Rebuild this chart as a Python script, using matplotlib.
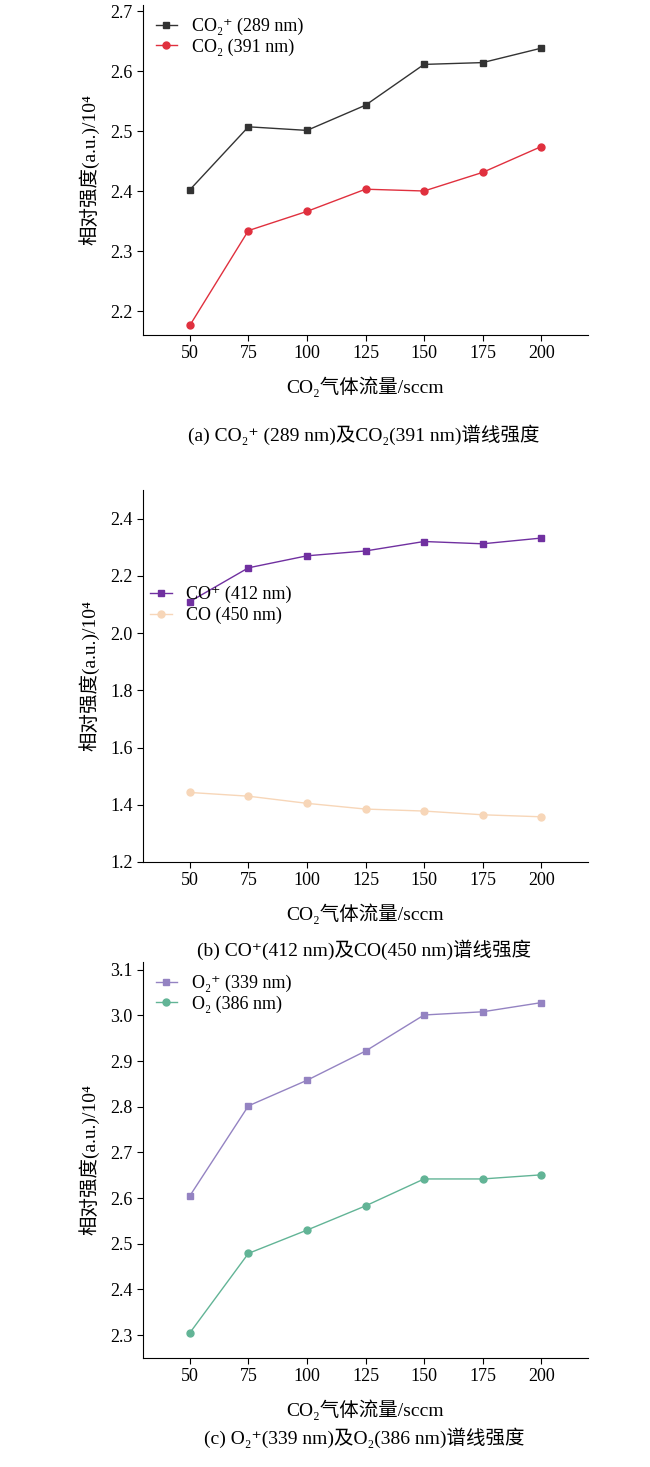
import matplotlib
matplotlib.use('Agg')
import matplotlib.pyplot as plt

plt.rcParams['font.family'] = ['Liberation Serif', 'DejaVu Serif', 'Noto Sans CJK SC']
plt.rcParams['font.size'] = 13

flow = [50, 75, 100, 125, 150, 175, 200]

co2p = [2.402, 2.507, 2.501, 2.543, 2.611, 2.614, 2.638]
co2 = [2.176, 2.334, 2.366, 2.403, 2.400, 2.431, 2.474]
cop = [2.110, 2.228, 2.270, 2.287, 2.320, 2.312, 2.332]
co = [1.443, 1.430, 1.405, 1.385, 1.378, 1.365, 1.358]
o2p = [2.605, 2.802, 2.858, 2.922, 3.001, 3.008, 3.028]
o2 = [2.305, 2.479, 2.530, 2.583, 2.642, 2.642, 2.651]

fig = plt.figure(figsize=(6.5, 14.67), dpi=100)
W, H = 650, 1467

def make_ax(top, bottom):
    return fig.add_axes([143 / W, 1 - bottom / H, 445 / W, (bottom - top) / H])

panels = [
    (5, 335, (2.16, 2.71), [2.2, 2.3, 2.4, 2.5, 2.6, 2.7],
     [(co2p, 's', '#333333', 'CO₂⁺ (289 nm)'), (co2, 'o', '#e0303e', 'CO₂ (391 nm)')],
     'upper left', '(a) CO₂⁺ (289 nm)及CO₂(391 nm)谱线强度', 435),
    (490, 862, (1.2, 2.5), [1.2, 1.4, 1.6, 1.8, 2.0, 2.2, 2.4],
     [(cop, 's', '#7030a0', 'CO⁺ (412 nm)'), (co, 'o', '#f7d6b8', 'CO (450 nm)')],
     (0.0, 0.62), '(b) CO⁺(412 nm)及CO(450 nm)谱线强度', 950),
    (962, 1358, (2.25, 3.117), [2.3, 2.4, 2.5, 2.6, 2.7, 2.8, 2.9, 3.0, 3.1],
     [(o2p, 's', '#9483c2', 'O₂⁺ (339 nm)'), (o2, 'o', '#62b496', 'O₂ (386 nm)')],
     'upper left', '(c) O₂⁺(339 nm)及O₂(386 nm)谱线强度', 1438),
]

for top, bottom, ylim, yt, series, loc, cap, cy in panels:
    ax = make_ax(top, bottom)
    for vals, mk, c, lab in series:
        ax.plot(flow, vals, marker=mk, color=c, lw=1, ms=5, label=lab)
    ax.set_xlim(30, 220)
    ax.set_ylim(*ylim)
    ax.set_xticks(flow)
    ax.set_yticks(yt)
    ax.set_yticklabels([f'{v:.1f}' for v in yt])
    ax.spines['top'].set_visible(False)
    ax.spines['right'].set_visible(False)
    ax.tick_params(direction='out', length=4)
    ax.set_xlabel('CO₂气体流量/sccm', fontsize=14, labelpad=10)
    ax.set_ylabel('相对强度(a.u.)/10⁴', fontsize=14, labelpad=8)
    ax.legend(loc=loc, frameon=False, fontsize=13, handlelength=1.2,
              borderaxespad=0.3, labelspacing=0.2)
    fig.text(0.56, 1 - cy / H, cap, ha='center', va='center', fontsize=14)

fig.savefig('out.png', dpi=100)
